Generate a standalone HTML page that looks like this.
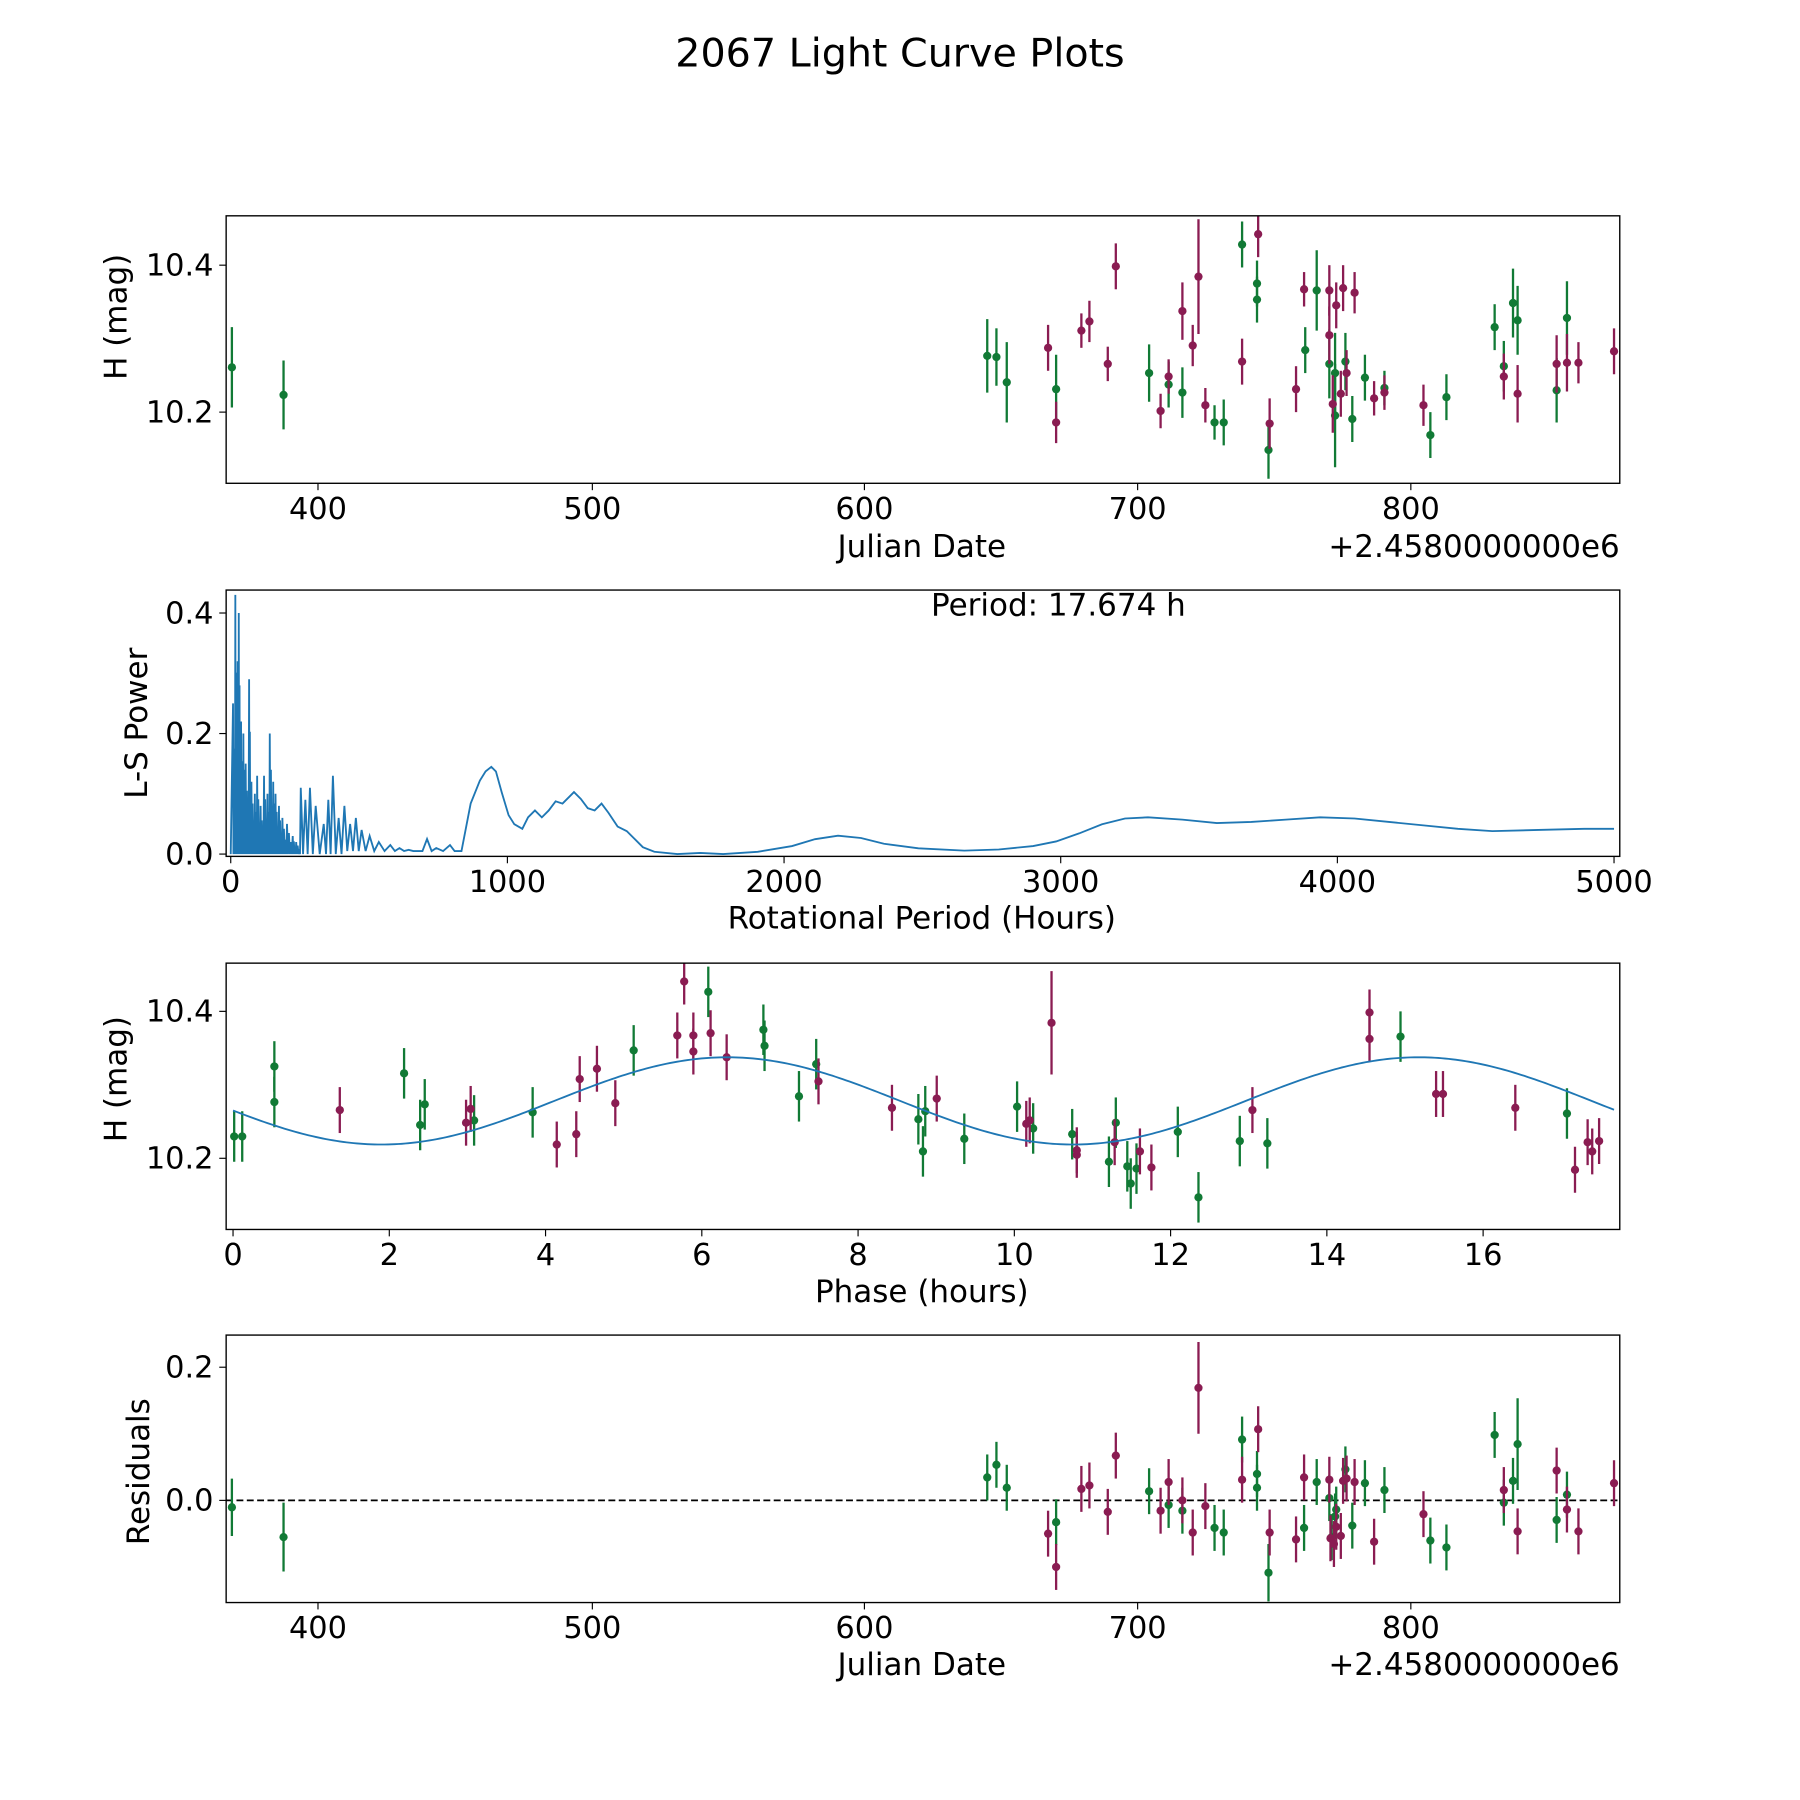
<!DOCTYPE html>
<html><head><meta charset="utf-8"><style>
html,body{margin:0;padding:0;background:#fff;}
svg{display:block;font-family:"DejaVu Sans","Liberation Sans",sans-serif;}
</style></head><body>
<svg id="s" width="1800" height="1800" viewBox="0 0 1568 1568" xmlns="http://www.w3.org/2000/svg">
<rect width="1568" height="1568" fill="#fff"/>
<text x="784" y="58" font-size="34.5" text-anchor="middle">2067 Light Curve Plots</text>
<g id="content"></g>
</svg>
<script>
const NS="http://www.w3.org/2000/svg",C=document.getElementById('content');
function el(t,a,txt){const e=document.createElementNS(NS,t);for(const k in a)e.setAttribute(k,a[k]);if(txt!==undefined)e.textContent=txt;C.appendChild(e);return e;}
const G="#117a35",M="#8a1c52",FS=27,TS=26.5;
function frame(y0,y1){el('rect',{x:197,y:y0,width:1214,height:y1-y0,fill:'none',stroke:'#000','stroke-width':1.2});}
function xt(xs,y1){xs.forEach(([x,l])=>{el('line',{x1:x,y1:y1,x2:x,y2:y1+6,stroke:'#000','stroke-width':1});el('text',{x:x,y:y1+31,'font-size':TS,'text-anchor':'middle'},l);});}
function yt(ys){ys.forEach(([y,l])=>{el('line',{x1:191,y1:y,x2:197,y2:y,stroke:'#000','stroke-width':1});el('text',{x:186,y:y+9,'font-size':TS,'text-anchor':'end'},l);});}
function ylab(x,y,l){el('text',{x:x,y:y,'font-size':FS,'text-anchor':'middle',transform:`rotate(-90 ${x} ${y})`},l);}
function pts(arr,col,def){arr.forEach(p=>{const e=p[2]||def;el('line',{x1:p[0],y1:p[1]-e,x2:p[0],y2:p[1]+e,stroke:col,'stroke-width':2});el('circle',{cx:p[0],cy:p[1],r:3.6,fill:col});});}
function clip(id,y0,y1){const d=el('clipPath',{id:id});const r=document.createElementNS(NS,'rect');r.setAttribute('x',197);r.setAttribute('y',y0);r.setAttribute('width',1214);r.setAttribute('height',y1-y0);d.appendChild(r);}
const jdx=[[277,'400'],[516,'500'],[753,'600'],[991,'700'],[1229,'800']];
clip('c1',188,421);clip('c3',839,1071);clip('c4',1163,1396);
const g1=[[202,320,35],[247,344,30],[860,310,32],[868,311,25],[877,333,35],[920,339,30],[1001,325,25],[1018,335,20],[1030,342,22],[1058,368,15],[1066,368,20],[1082,213,20],[1095,247,20],[1095,261,20],[1105,392,25],[1137,305,20],[1147,253,35],[1158,317,30],[1163,325,35],[1163,362,45],[1172,315,25],[1178,365,20],[1189,329,20],[1206,338,15],[1246,379,20],[1260,346,20],[1302,285,20],[1310,319,22],[1318,264,30],[1322,279,30],[1356,340,28],[1365,277,32]];
const m1=[[913,303,20],[920,368,18],[942,288,15],[949,280,18],[965,317,15],[972,232,20],[1011,358,15],[1018,328,15],[1030,271,25],[1039,301,18],[1044,241,50],[1050,353,15],[1082,315,20],[1096,204,20],[1106,369,22],[1129,339,20],[1136,252,15],[1158,253,22],[1158,292,25],[1161,352,25],[1164,266,20],[1168,343,20],[1170,251,20],[1173,325,20],[1180,255,18],[1197,347,15],[1206,342,15],[1240,353,18],[1310,328,20],[1322,343,25],[1356,317,25],[1365,316,25],[1375,316,18],[1406,306,20]];
function drawInto(gr,f){const n0=C.childNodes.length;f();const nodes=[...C.childNodes].slice(n0);nodes.forEach(n=>gr.appendChild(n));}
let g=el('g',{'clip-path':'url(#c1)'});
drawInto(g,()=>{pts(g1,G,20);pts(m1,M,20);});
frame(188,421);xt(jdx,421);yt([[231,'10.4'],[359,'10.2']]);ylab(110,276,'H (mag)');
el('text',{x:803,y:485,'font-size':FS,'text-anchor':'middle'},'Julian Date');
el('text',{x:1411,y:485,'font-size':FS,'text-anchor':'end'},'+2.4580000000e6');
// Panel 2
const P=y=>744-y*525;
let d=[];
const sp=[[203,.25],[205,.43],[207,.32],[208,.40],[210,.22],[212,.2],[214,.15],[217,.29],[219,.12],[222,.1],[224,.13],[227,.08],[230,.13],[233,.1],[235,.2],[238,.12],[240,.1],[243,.08],[246,.06],[250,.05],[255,.03],[258,.02],[262,.11],[266,.09],[270,.11],[275,.08],[282,.05],[286,.09],[290,.13],[295,.06],[300,.08],[305,.05],[310,.06],[315,.04],[322,.03],[330,.02],[340,.015],[348,.01],[356,.007],[364,.005],[372,.025],[380,.01],[392,.015],[400,.005]];
d.push([201,P(0)]);
for(let i=0;i<sp.length;i++){const [x,v]=sp[i];const nx=i+1<sp.length?sp[i+1][0]:x+4;
 if(x<260){for(let k=0;k<3;k++){const xx=x+k*(nx-x)/3;d.push([xx,P(v*(1-k*0.3))]);d.push([xx+(nx-x)/6,P(0)]);}}
 else{d.push([x,P(v)]);d.push([(x+nx)/2,P(x<300?0:0.005)]);}}
[[410,700],[418,680],[423,672],[428,668],[432,672],[437,690],[443,710],[448,718],[455,722],[460,712],[466,706],[472,712],[478,706],[484,698],[490,700],[496,694],[500,690],[506,696],[512,704],[518,706],[524,700],[530,708],[538,720],[546,724],[552,730],[560,738],[570,742],[590,744],[610,743],[630,744],[660,742],[690,737],[710,731],[730,728],[750,730],[770,735],[800,739],[840,741],[870,740],[900,737],[920,733],[940,726],[960,718],[980,713],[1000,712],[1030,714],[1060,717],[1090,716],[1120,714],[1150,712],[1180,713],[1210,716],[1240,719],[1270,722],[1300,724],[1340,723],[1380,722],[1406,722]].forEach(p=>d.push(p));
el('polyline',{points:d.map(p=>p.join(',')).join(' '),fill:'none',stroke:'#1f77b4','stroke-width':1.6});
el('rect',{x:197,y:514,width:1214,height:232,fill:'none',stroke:'#000','stroke-width':1.2});
xt([[201,'0'],[442,'1000'],[683,'2000'],[924,'3000'],[1165,'4000'],[1406,'5000']],746);
yt([[744,'0.0'],[639,'0.2'],[534,'0.4']]);ylab(128,630,'L-S Power');
el('text',{x:922,y:536,'font-size':FS,'text-anchor':'middle'},'Period: 17.674 h');
el('text',{x:803,y:809,'font-size':FS,'text-anchor':'middle'},'Rotational Period (Hours)');
// Panel 3
let g3=el('g',{'clip-path':'url(#c3)'});
const g3p=[[204,990],[211,990],[239,960],[239,929],[352,935],[366,980],[370,962],[413,976],[464,969],[552,915],[617,864],[665,897],[666,911],[696,955],[711,927],[800,975],[804,1003],[806,968],[840,992],[886,964],[900,983],[934,988],[966,1012],[972,978],[982,1016],[985,1031],[990,1018],[1026,986],[1044,1043],[1080,994],[1104,996],[1220,903],[1365,970]];
const m3p=[[296,967],[406,978],[410,966],[485,997],[502,988],[505,940],[520,931],[536,961],[590,902],[596,855],[604,916],[604,902],[619,900],[633,921],[713,942],[777,965],[816,957],[894,979],[897,976],[916,891,45],[938,1006],[938,1002],[971,995],[993,1003],[1003,1017],[1091,967],[1193,882],[1193,905],[1251,953],[1257,953],[1320,965],[1372,1019],[1383,995],[1387,1003],[1393,994]];
drawInto(g3,()=>{
 let c=[];for(let x=203;x<=1406;x+=3){const p=(x-203)/68.06;c.push([x,959+38*Math.cos(2*Math.PI*(p-1.9)/8.85)]);}
 pts(g3p,G,22);pts(m3p,M,20);
 el('polyline',{points:c.map(p=>p.join(',')).join(' '),fill:'none',stroke:'#1f77b4','stroke-width':1.6});});
frame(839,1071);
xt([0,2,4,6,8,10,12,14,16].map(v=>[203+v*68.06,String(v)]),1071);
yt([[881,'10.4'],[1009,'10.2']]);ylab(110,940,'H (mag)');
el('text',{x:803,y:1134,'font-size':FS,'text-anchor':'middle'},'Phase (hours)');
// Panel 4
let g4=el('g',{'clip-path':'url(#c4)'});
const g4p=[[202,1313,25],[247,1339,30],[860,1287],[868,1276],[877,1296],[920,1326],[1001,1299],[1018,1311],[1030,1316],[1058,1331],[1066,1335],[1082,1254],[1095,1284],[1095,1296],[1105,1370,25],[1136,1331],[1147,1291],[1158,1305],[1160,1339],[1163,1321],[1164,1315],[1172,1280],[1178,1329],[1189,1292],[1206,1298],[1246,1342],[1260,1348],[1302,1250],[1310,1309],[1318,1290],[1322,1258,40],[1356,1324],[1365,1302]];
const m4p=[[913,1336],[920,1365],[942,1297],[949,1294],[965,1317],[972,1268],[1011,1316],[1018,1291],[1030,1307],[1039,1335],[1044,1209,40],[1050,1312],[1082,1289],[1096,1245],[1106,1335],[1129,1341],[1136,1287],[1158,1289],[1159,1340],[1162,1345],[1164,1330],[1168,1338],[1170,1290],[1173,1288],[1180,1291],[1197,1343],[1240,1319],[1310,1298],[1322,1334],[1356,1281],[1365,1315],[1375,1334],[1406,1292]];
drawInto(g4,()=>{el('line',{x1:197,y1:1307,x2:1411,y2:1307,stroke:'#000','stroke-width':1.5,'stroke-dasharray':'6,3'});pts(g4p,G,20);pts(m4p,M,20);});
frame(1163,1396);xt(jdx,1396);yt([[1307,'0.0'],[1191,'0.2']]);ylab(130,1282,'Residuals');
el('text',{x:803,y:1459,'font-size':FS,'text-anchor':'middle'},'Julian Date');
el('text',{x:1411,y:1459,'font-size':FS,'text-anchor':'end'},'+2.4580000000e6');
</script>
</body></html>
